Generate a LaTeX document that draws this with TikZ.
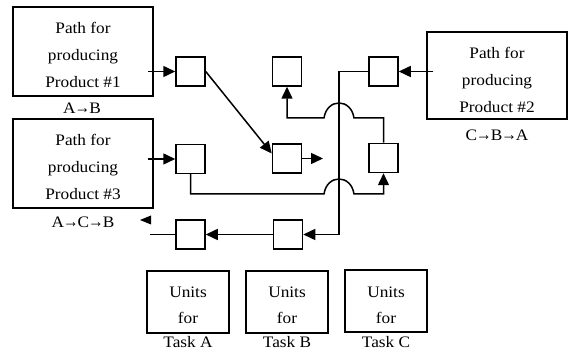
\documentclass[tikz,border=0pt]{standalone}
\usepackage{fontspec}
\usepackage{graphicx}
\setmainfont{Liberation Serif}[FakeStretch=1.08]
\usetikzlibrary{arrows.meta,calc}
\newcommand{\rarr}{\kern-1pt\scalebox{0.9}[1.1]{→}\kern-1pt}
\begin{document}
\begin{tikzpicture}[x=1pt,y=-1pt,line width=1.5pt,
  bigbox/.style={draw,minimum width=140pt,minimum height=89pt,inner sep=0pt},
  unit/.style={draw,minimum width=29pt,minimum height=29pt,inner sep=0pt},
  taskbox/.style={draw,minimum width=82pt,minimum height=62pt,inner sep=0pt},
  txt/.style={font=\fontsize{16}{27}\selectfont,align=center,inner sep=0pt},
  conn/.style={-{Triangle[length=12pt,width=11pt]}}]
\useasboundingbox (0,0) rectangle (573,352);
% product boxes
\node[bigbox] (P1) at (83,51.5) {};
\node[txt] (P1t) at (83,55) {Path for\\producing\\Product \#1};
\node[txt] (P1l) at (82,108) {A\rarr B};
\node[bigbox,minimum height=87pt] (P2) at (497,75.5) {};
\node[txt] (P2t) at (497,80) {Path for\\producing\\Product \#2};
\node[txt] (P2l) at (497,135) {C\rarr B\rarr A};
\node[bigbox] (P3) at (83,163.5) {};
\node[txt] (P3t) at (83,167) {Path for\\producing\\Product \#3};
\node[txt] (P3l) at (83,222) {A\rarr C\rarr B};
% small units
\node[unit] (A1) at (190.5,71.5) {};
\node[unit] (A3) at (190.5,159) {};
\node[unit] (Ab) at (190.5,234.5) {};
\node[unit] (Bt) at (287,71.5) {};
\node[unit] (Bm) at (287,158.5) {};
\node[unit] (Bb) at (288,234.5) {};
\node[unit] (Ct) at (383.5,71.5) {};
\node[unit] (Cm) at (383.5,158) {};
% task boxes
\node[taskbox] (UA) at (188,302) {};
\node[txt,font=\fontsize{16}{26}\selectfont] (UAt) at (188,305) {Units\\for};
\node[txt] (UAl) at (188,342) {Task A};
\node[taskbox] (UB) at (287,302) {};
\node[txt,font=\fontsize{16}{26}\selectfont] (UBt) at (287,305) {Units\\for};
\node[txt] (UBl) at (287,342) {Task B};
\node[taskbox] (UC) at (386,301) {};
\node[txt,font=\fontsize{16}{26}\selectfont] (UCt) at (386,305) {Units\\for};
\node[txt] (UCl) at (386,342) {Task C};
% helper coordinates
\coordinate (vx) at (339,0);
\coordinate (j1) at (339,118);
\coordinate (j2) at (339,194);
\coordinate (BmOut) at (323,158.5);
\coordinate (AbOut) at (150,234.5);
% connectors
\draw[conn] ($(P1.east |- A1.west)+(-6,0)$) -- (A1.west);
\draw[conn] ($(P3.east |- A3.west)+(-6,0)$) -- (A3.west);
\draw[conn] ($(P2.west |- Ct.east)+(7,0)$) -- (Ct.east);
\draw[conn] (A1.east) -- ($(Bm.west)+(0,-5)$);
\draw[conn] (Bm.east) -- (BmOut);
\draw[conn] (Ct.west) -| (vx |- Bb.east) -- (Bb.east);
\draw[conn] (Bb.west) -- (Ab.east);
\draw (Ab.west) -- (AbOut);
\fill (140,220) -- (151,215.5) -- (151,224.5) -- cycle;
\draw[conn] (Cm.north) |- ($(j1)+(15,0)$) .. controls ($(j1)+(12,-20)$) and ($(j1)+(-12,-20)$) .. ($(j1)+(-15,0)$) -| (Bt.south);
\draw[conn] (A3.south) |- ($(j2)+(-15,0)$) .. controls ($(j2)+(-12,-20)$) and ($(j2)+(12,-20)$) .. ($(j2)+(15,0)$) -| (Cm.south);
\end{tikzpicture}
\end{document}
